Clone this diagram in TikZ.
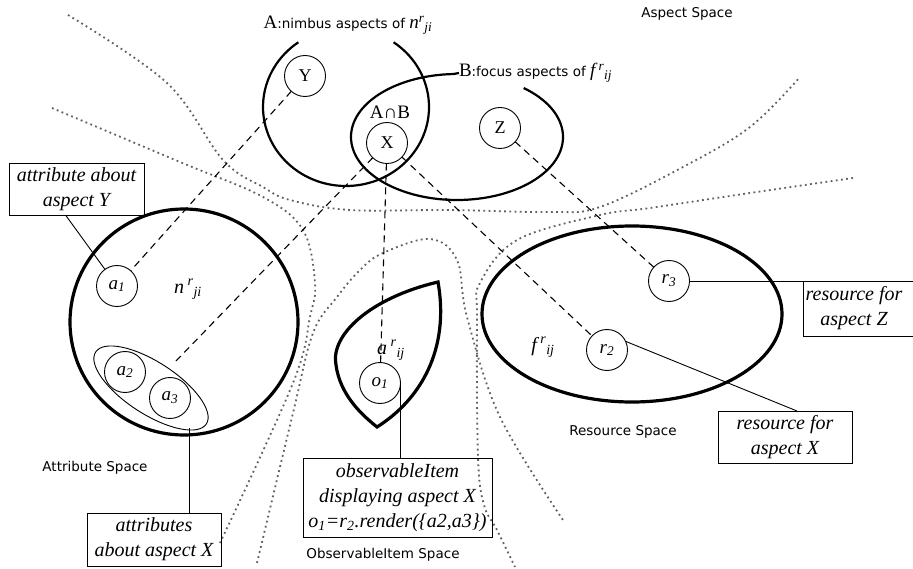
\documentclass[tikz,border=0pt]{standalone}
\usepackage{fontspec}
\setmainfont{Liberation Serif}
\newfontfamily\sansf{DejaVu Sans}
\usetikzlibrary{calc}
\begin{document}
\begin{tikzpicture}[x=1pt,y=-1pt,
  every node/.style={inner sep=0pt, outer sep=0pt},
  sm/.style={draw, circle, minimum size=41pt, line width=0.9pt, font=\fontsize{18}{20}\selectfont},
  smi/.style={sm, font=\fontsize{19}{20}\selectfont\itshape},
  dotline/.style={draw=black!62, line width=1.8pt, dash pattern=on 1.8pt off 3.4pt},
  dashline/.style={line width=1.1pt, dash pattern=on 7pt off 5pt},
  thickshape/.style={line width=3.2pt, line join=miter},
  setline/.style={line width=2.2pt},
  lab/.style={font=\sansf\fontsize{13.5}{15}\selectfont},
  boxtext/.style={font=\fontsize{20}{25}\selectfont\itshape, align=center},
  framebox/.style={draw, line width=0.9pt, boxtext},
  conn/.style={line width=0.9pt},
  sym/.style={font=\fontsize{19}{20}\selectfont}]
\useasboundingbox (0,0) rectangle (913,569);

% space borders (dotted)
\draw[dotline] plot[smooth, tension=0.6] coordinates {(68,15) (167,83) (223,160) (263,187) (290,200) (350,210) (450,210) (550,212) (600,207) (683,167) (750,127) (800,77)};
\draw[dotline] plot[smooth, tension=0.6] coordinates {(52,108) (180,162) (263,197) (303,230) (315,283) (310,317) (293,383) (220,543)};
\draw[dotline] plot[smooth, tension=0.6] coordinates {(853,178) (750,193) (650,208) (600,215) (517,240) (480,283) (477,317) (478,457) (484,505) (497,530) (515,567)};
\draw[dotline] plot[smooth, tension=0.6] coordinates {(257,563) (293,413) (313,333) (337,297) (360,270) (383,253) (430,239) (457,260) (467,317) (500,417) (563,520)};

% labels
\node[lab] (aspsp) at (687,14) {Aspect Space};
\node[lab] (attsp) at (95,468) {Attribute Space};
\node[lab] (ressp) at (623,432) {Resource Space};
\node[lab] (obssp) at (383,555) {ObservableItem Space};

\node (Alab) at (348,25) {{\fontsize{19}{20}\selectfont A}{\sansf\fontsize{13.5}{15}\selectfont :nimbus aspects of }{\fontsize{19}{20}\selectfont\itshape n\textsuperscript{r}\textsubscript{ji}}};
\node[anchor=west] (Blab) at (459,73) {{\fontsize{19}{20}\selectfont B}{\sansf\fontsize{13.5}{15}\selectfont :focus aspects of }{\fontsize{19}{20}\selectfont\itshape f\,\textsuperscript{r}\textsubscript{ij}}};

% aspect sets
\draw[setline] (346,107) ++(305:83 and 79) arc[start angle=305, end angle=595, x radius=83, y radius=79];
\draw[setline] (457,137) ++(309:106 and 63) arc[start angle=309, end angle=628, x radius=106, y radius=63] -- (Blab.west);
\node[sym] (AB) at (390,112) {A∩B};

% big shapes
\draw[thickshape] (184,322) ellipse[x radius=114, y radius=113];
\draw[thickshape] (632,314) ellipse[x radius=150, y radius=88];
\draw[thickshape] (377,427) .. controls (362,415) and (340,395) .. (336,365) .. controls (330,335) and (370,298) .. (438,282) .. controls (450,350) and (420,400) .. (377,427) -- cycle;
\draw[conn, rotate around={-33:(151,388)}] (151,388) ellipse[x radius=66, y radius=26];
\coordinate (aellT) at (175,362);
\coordinate (aellB) at (189,428);

\node[font=\fontsize{20}{22}\selectfont\itshape] (nlab) at (188,289) {n\,\textsuperscript{r}\textsubscript{ji}};
\node[font=\fontsize{20}{22}\selectfont\itshape] (alab) at (391,350) {a\,\textsuperscript{r}\textsubscript{ij}};
\node[font=\fontsize{20}{22}\selectfont\itshape] (flab) at (543,347) {f\,\textsuperscript{r}\textsubscript{ij}};

% small circles
\node[sm] (Y) at (305,76) {Y};
\node[sm] (X) at (387,143) {X};
\node[sm] (Z) at (500,128) {Z};
\node[smi] (a1) at (117,286) {a\textsubscript{1}};
\node[smi] (a2) at (125,372) {a\textsubscript{2}};
\node[smi] (a3) at (170,398) {a\textsubscript{3}};
\node[smi] (o1) at (380,383) {o\textsubscript{1}};
\node[smi] (r2) at (607,350) {r\textsubscript{2}};
\node[smi] (r3) at (669,281) {r\textsubscript{3}};

% boxes
\node[framebox, minimum width=135pt, minimum height=52pt] (boxY) at (76.5,189) {attribute about\\aspect Y};
\node[framebox, minimum width=134pt, minimum height=53pt] (boxAX) at (154,539.5) {attributes\\about aspect X};
\node[framebox, minimum width=189pt, minimum height=79pt] (boxO) at (397.5,497.5) {observableItem\\displaying aspect X\\o\textsubscript{1}=r\textsubscript{2}.render(\{a2,a3\})};
\node[framebox, minimum width=134pt, minimum height=52pt] (boxX) at (785,437) {resource for\\aspect X};
\node[boxtext] (boxZ) at (854,308) {resource for\\aspect Z};
\draw[conn] (803,281) rectangle (925,336);
\coordinate (zc) at (803,281);

% dashed aspect links
\draw[dashline] (Y) -- (a1);
\draw[dashline] (X) -- (aellT);
\draw[dashline] (X) -- (o1);
\draw[dashline] (X) -- (r2);
\draw[dashline] (Z) -- (r3);

% callout lines
\draw[conn] ($(boxY.south)+(-11,0)$) -- (a1);
\draw[conn] (aellB) -- (aellB |- boxAX.north);
\draw[conn] (o1.east) -- (o1.east |- boxO.north);
\draw[conn] (r3.east) -- (zc);
\draw[conn] (r2.25) -- ($(boxX.north)+(12,0)$);
\end{tikzpicture}
\end{document}
